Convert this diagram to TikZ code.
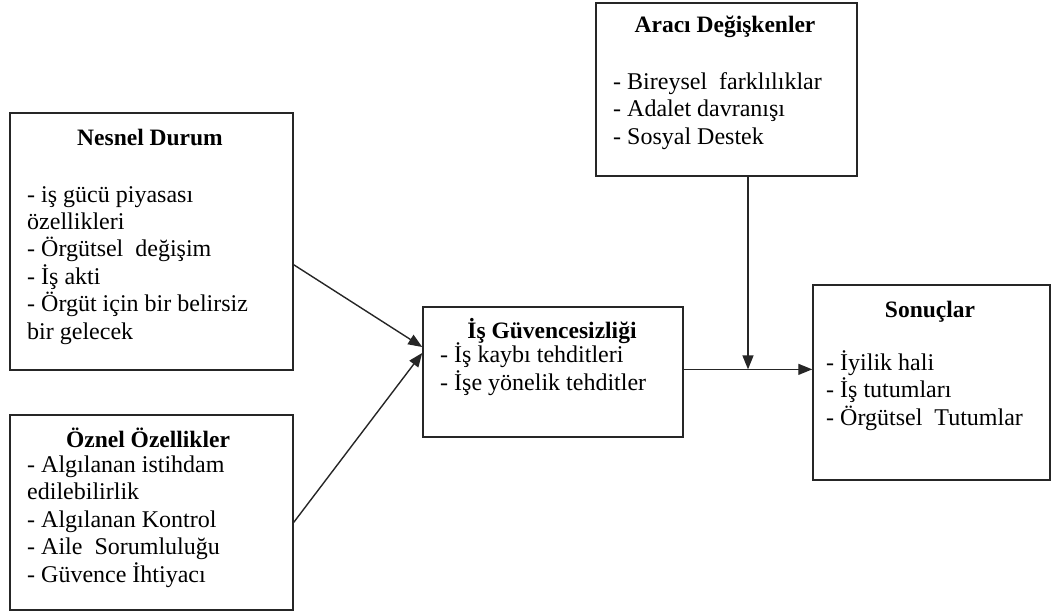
\documentclass[tikz,border=0pt]{standalone}
\usepackage{fontspec}
\setmainfont{Liberation Serif}
\usetikzlibrary{arrows.meta,calc}
\begin{document}
\begin{tikzpicture}[x=1pt,y=-1pt,
  box/.style={draw=black!85,line width=1.5pt,inner sep=0pt,rectangle},
  ttl/.style={font=\fontsize{23.5}{27.4}\selectfont\bfseries,inner sep=0pt,anchor=base},
  % multi-line lists: the base anchor sits on the last line
  lst/.style={font=\fontsize{24}{27.4}\selectfont,inner sep=0pt,align=left,anchor=base west},
  conn/.style={line width=1.4pt,draw=black!85},
  arr/.style={conn,-{Triangle[length=14pt,width=11pt]}}]
\useasboundingbox (0,0) rectangle (1051,615);

% boxes
\node[box,minimum width=283pt,minimum height=257pt] (nesnel) at (151.5,241.5) {};
\node[box,minimum width=283pt,minimum height=195pt] (oznel) at (151.5,512.5) {};
\node[box,minimum width=260pt,minimum height=130pt] (isg) at (553,372) {};
\node[box,minimum width=261pt,minimum height=173pt] (araci) at (726.5,89.5) {};
\node[box,minimum width=237pt,minimum height=195pt] (sonuc) at (931.5,382.5) {};

% texts
\node[ttl] (t1) at (150,145) {Nesnel Durum};
\node[lst] (l1) at (27,339) {- iş gücü piyasası\\özellikleri\\- Örgütsel\ \ değişim\\- İş akti\\- Örgüt için bir belirsiz\\bir gelecek};

\node[ttl] (t2) at (148,447) {Öznel Özellikler};
\node[lst] (l2) at (27,582) {- Algılanan istihdam\\edilebilirlik\\- Algılanan Kontrol\\- Aile\ \ Sorumluluğu\\- Güvence İhtiyacı};

\node[ttl] (t3) at (552,338) {İş Güvencesizliği};
\node[lst] (l3) at (440,390) {- İş kaybı tehditleri\\- İşe yönelik tehditler};

\node[ttl] (t4) at (725,33) {Aracı Değişkenler};
\node[lst] (l4) at (613,144) {- Bireysel\ \ farklılıklar\\- Adalet davranışı\\- Sosyal Destek};

\node[ttl] (t5) at (930,317) {Sonuçlar};
\node[lst] (l5) at (826,425) {- İyilik hali\\- İş tutumları\\- Örgütsel\ \ Tutumlar};

% connectors
\draw[arr] ($(nesnel.north east)!0.59!(nesnel.south east)$) -- ($(isg.north west)!0.31!(isg.south west)$);
\draw[arr] ($(oznel.north east)!0.55!(oznel.south east)$) -- ($(isg.north west)!0.355!(isg.south west)$);
\draw[arr] ($(isg.north east)!0.48!(isg.south east)$) coordinate (out) -- (out -| sonuc.west);
\coordinate (join) at ($(araci.south)+(21.5,0)$);
\draw[arr] (join) -- (join |- out);
\end{tikzpicture}
\end{document}
